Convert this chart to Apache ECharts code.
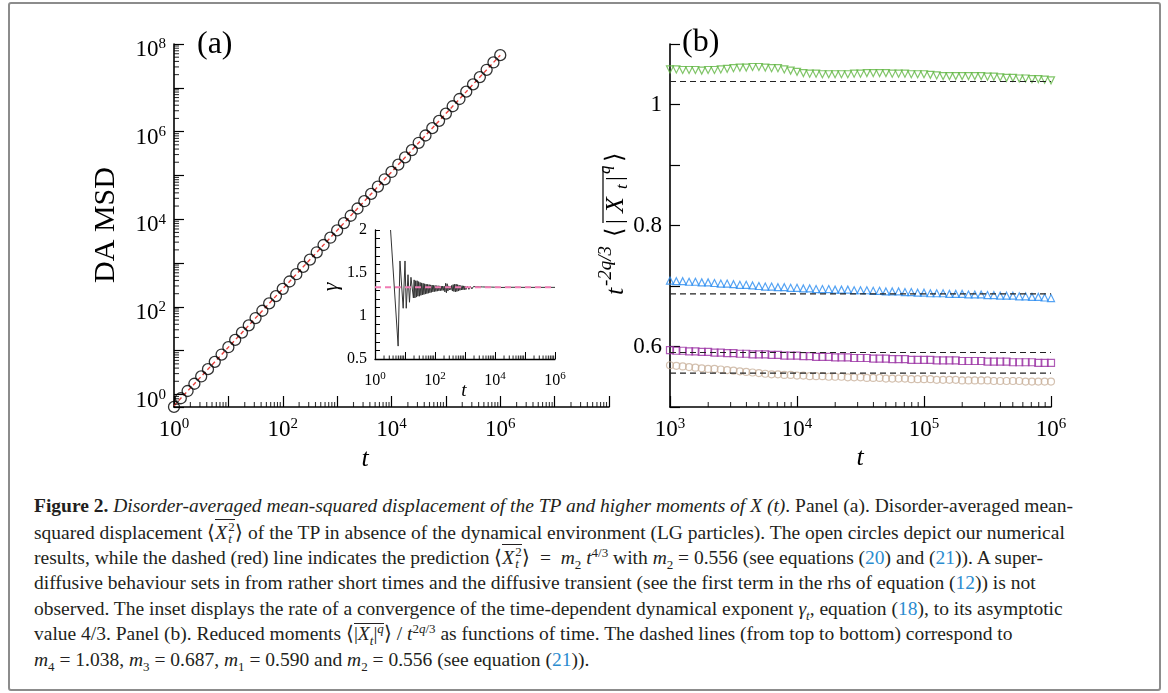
<!DOCTYPE html>
<html>
<head>
<meta charset="utf-8">
<script src="https://cdn.jsdelivr.net/npm/echarts@6.0.0/dist/echarts.min.js"></script>
<style>
  html, body { margin: 0; padding: 0; background: #fff; }
  #frame { position: absolute; left: 8px; top: 2px; width: 1153px; height: 689px; box-sizing: border-box; border: 2px solid #8c8c8c; border-radius: 3px; }
  #chart { position: absolute; left: 0; top: 0; width: 1168px; height: 480px; }
  #caption { position: absolute; left: 34px; top: 493px; font-family: 'Liberation Serif', serif; font-size: 19.5px; color: #231f20; white-space: nowrap; }
  #caption > div { height: 25.7px; line-height: 25.7px; }
  #caption sub, #caption sup { font-size: 13px; line-height: 0; }
  #caption a { color: #2b8ccf; text-decoration: none; }
  .ov { display: inline-block; border-top: 1px solid #231f20; line-height: 19px; }
  .ss { display: inline-block; position: relative; width: 8px; height: 19px; }
  .ss span { position: absolute; left: 1px; font-size: 13px; line-height: 13px; }
  .ss .u { top: 0px; }
  .ss .d { top: 12px; font-style: italic; }
</style>
</head>
<body>
<div id="frame"></div>
<div id="chart"></div>
<div id="caption">
  <div><b>Figure 2.</b> <i>Disorder-averaged mean-squared displacement of the TP and higher moments of X (t)</i>. Panel (a). Disorder-averaged mean-</div>
  <div>squared displacement &#10216;<span class="ov"><i>X</i><span class="ss"><span class="u">2</span><span class="d">t</span></span></span>&#10217; of the TP in absence of the dynamical environment (LG particles). The open circles depict our numerical</div>
  <div>results, while the dashed (red) line indicates the prediction &#10216;<span class="ov"><i>X</i><span class="ss"><span class="u">2</span><span class="d">t</span></span></span>&#10217; &nbsp;= &nbsp;<i>m</i><sub>2</sub> <i>t</i><sup>4/3</sup> with <i>m</i><sub>2</sub> = 0.556 (see equations (<a>20</a>) and (<a>21</a>)). A super-</div>
  <div>diffusive behaviour sets in from rather short times and the diffusive transient (see the first term in the rhs of equation (<a>12</a>)) is not</div>
  <div>observed. The inset displays the rate of a convergence of the time-dependent dynamical exponent <i>&gamma;<sub>t</sub></i>, equation (<a>18</a>), to its asymptotic</div>
  <div>value 4/3. Panel (b). Reduced moments &#10216;<span class="ov">|<i>X<sub>t</sub></i>|<sup><i>q</i></sup></span>&#10217; / <i>t</i><sup>2<i>q</i>/3</sup> as functions of time. The dashed lines (from top to bottom) correspond to</div>
  <div><i>m</i><sub>4</sub> = 1.038, <i>m</i><sub>3</sub> = 0.687, <i>m</i><sub>1</sub> = 0.590 and <i>m</i><sub>2</sub> = 0.556 (see equation (<a>21</a>)).</div>
</div>
<script>
// panel (a): disorder-averaged MSD
const tA = [1, 1.334, 1.778, 2.371, 3.162, 4.217, 5.623, 7.499,
  10, 13.34, 17.78, 23.71, 31.62, 42.17, 56.23, 74.99,
  100, 133.4, 177.8, 237.1, 316.2, 421.7, 562.3, 749.9,
  1000, 1334, 1778, 2371, 3162, 4217, 5623, 7499,
  1e4, 13340, 17780, 23710, 31620, 42170, 56230, 74990,
  1e5, 133400, 177800, 237100, 316200, 421700, 562300, 749900,
  1e6]
const msdA = [0.52, 0.82, 1.2, 1.76, 2.58, 3.79, 5.56, 8.16,
  12.0, 17.6, 25.8, 37.9, 55.6, 81.6, 120, 176,
  258, 379, 556, 816, 1200, 1760, 2580, 3790,
  5560, 8160, 1.2e4, 1.76e4, 2.58e4, 3.79e4, 5.56e4, 8.16e4,
  1.2e5, 1.76e5, 2.58e5, 3.79e5, 5.56e5, 8.16e5, 1.2e6, 1.76e6,
  2.58e6, 3.79e6, 5.56e6, 8.16e6, 1.2e7, 1.76e7, 2.58e7, 3.79e7,
  5.56e7]
const fitT = [1, 1e6]
const fitMsd = [0.556, 5.56e7]

// inset: gamma_t
const insetT = [3.3, 5.9, 6.8, 8.7, 10, 11, 12.6, 14.1, 15.8,
  19.05, 20.18, 21.38, 22.65, 23.99, 25.41, 26.92, 28.51, 30.20, 31.99,
  33.88, 35.89, 38.02, 40.27, 42.66, 45.19, 47.86, 50.70, 53.70, 56.89,
  60.26, 63.83, 67.61, 71.61, 75.86, 80.35, 85.11, 90.16, 95.50, 101.2,
  107.2, 113.5, 120.2, 127.4, 134.9, 142.9, 151.4, 160.3, 169.8, 179.9,
  190.5, 201.8, 213.8, 226.5, 239.9, 254.1, 269.2, 285.1, 302.0, 319.9,
  338.8, 358.9, 380.2, 402.7, 426.6, 451.9, 478.6, 507.0, 537.0, 568.9,
  602.6, 638.3, 676.1, 716.1, 758.6, 803.5, 851.1, 901.6, 955.0, 1012,
  1072, 1202, 1349, 1514, 1698, 1905, 2138, 2399, 2692, 3020,
  3388, 3802, 4266, 4786, 5370, 6026, 6761, 7586, 8511, 9550,
  15849, 39811, 1e5, 316228, 1e6]
const insetGamma = [2.0, 0.65, 1.64, 1.09, 1.64, 1.09, 1.48, 1.16, 1.45,
  1.21, 1.42, 1.21, 1.41, 1.22, 1.41, 1.23, 1.40, 1.23, 1.39,
  1.24, 1.385, 1.245, 1.38, 1.25, 1.375, 1.255, 1.37, 1.26, 1.368,
  1.265, 1.365, 1.27, 1.362, 1.275, 1.36, 1.28, 1.357, 1.283, 1.355,
  1.286, 1.353, 1.289, 1.352, 1.292, 1.35, 1.294, 1.349, 1.296, 1.348,
  1.298, 1.347, 1.28, 1.38, 1.27, 1.375, 1.29, 1.35, 1.303, 1.345,
  1.305, 1.355, 1.29, 1.365, 1.285, 1.37, 1.28, 1.37, 1.285, 1.365,
  1.29, 1.358, 1.298, 1.354, 1.302, 1.352, 1.304, 1.35, 1.306, 1.349,
  1.307, 1.348, 1.31, 1.345, 1.315, 1.342, 1.32, 1.34, 1.322, 1.34,
  1.325, 1.338, 1.327, 1.337, 1.328, 1.336, 1.33, 1.336, 1.33, 1.335,
  1.332, 1.334, 1.333, 1.333, 1.333]
const gammaLimit = 1.3333

// panel (b): reduced moments
const tB = [1000, 1122, 1259, 1413, 1585, 1778, 1995, 2239, 2512, 2818,
  3162, 3548, 3981, 4467, 5012, 5623, 6310, 7079, 7943, 8913,
  10000, 11220, 12590, 14130, 15850, 17780, 19950, 22390, 25120, 28180,
  31620, 35480, 39810, 44670, 50120, 56230, 63100, 70790, 79430, 89130,
  100000, 112200, 125900, 141300, 158500, 177800, 199500, 223900, 251200, 281800,
  316200, 354800, 398100, 446700, 501200, 562300, 631000, 707900, 794300, 891300,
  1000000]
const q4 = [1.058, 1.058, 1.057, 1.057, 1.057, 1.056, 1.057, 1.057, 1.058, 1.059,
  1.060, 1.061, 1.061, 1.062, 1.062, 1.061, 1.060, 1.060, 1.058, 1.056,
  1.054, 1.052, 1.051, 1.051, 1.050, 1.050, 1.050, 1.050, 1.050, 1.051,
  1.051, 1.052, 1.052, 1.052, 1.052, 1.051, 1.051, 1.051, 1.050, 1.050,
  1.050, 1.049, 1.048, 1.047, 1.047, 1.047, 1.047, 1.047, 1.047, 1.047,
  1.046, 1.046, 1.045, 1.044, 1.044, 1.043, 1.043, 1.042, 1.042, 1.041,
  1.040]
const q3 = [0.709, 0.708, 0.708, 0.707, 0.707, 0.706, 0.706, 0.705, 0.704, 0.704,
  0.703, 0.702, 0.702, 0.701, 0.700, 0.699, 0.699, 0.698, 0.698, 0.697,
  0.697, 0.696, 0.696, 0.695, 0.695, 0.695, 0.694, 0.694, 0.694, 0.693,
  0.693, 0.693, 0.692, 0.692, 0.691, 0.691, 0.691, 0.690, 0.690, 0.689,
  0.689, 0.688, 0.688, 0.688, 0.687, 0.687, 0.687, 0.686, 0.686, 0.686,
  0.685, 0.685, 0.684, 0.684, 0.684, 0.683, 0.683, 0.682, 0.682, 0.681,
  0.680]
const q1 = [0.594, 0.593, 0.593, 0.592, 0.592, 0.591, 0.591, 0.590, 0.590, 0.589,
  0.589, 0.588, 0.588, 0.587, 0.587, 0.587, 0.586, 0.586, 0.585, 0.585,
  0.585, 0.584, 0.584, 0.583, 0.583, 0.583, 0.582, 0.582, 0.582, 0.581,
  0.581, 0.581, 0.580, 0.580, 0.580, 0.579, 0.579, 0.579, 0.578, 0.578,
  0.578, 0.578, 0.577, 0.577, 0.577, 0.577, 0.576, 0.576, 0.576, 0.576,
  0.575, 0.575, 0.575, 0.575, 0.574, 0.574, 0.574, 0.574, 0.573, 0.573,
  0.573]
const q2 = [0.569, 0.568, 0.567, 0.566, 0.565, 0.564, 0.563, 0.563, 0.562, 0.561,
  0.560, 0.559, 0.558, 0.557, 0.556, 0.555, 0.554, 0.554, 0.553, 0.553,
  0.552, 0.552, 0.551, 0.551, 0.551, 0.550, 0.550, 0.550, 0.549, 0.549,
  0.549, 0.548, 0.548, 0.548, 0.547, 0.547, 0.547, 0.547, 0.546, 0.546,
  0.546, 0.546, 0.545, 0.545, 0.545, 0.545, 0.544, 0.544, 0.544, 0.544,
  0.544, 0.543, 0.543, 0.543, 0.543, 0.543, 0.542, 0.542, 0.542, 0.542,
  0.542]
const mRef = [1.038, 0.687, 0.590, 0.556]   // m4, m3, m1, m2
const refT = [1e3, 1e6]

const SERIF = "'Liberation Serif', 'DejaVu Serif', serif"
const yMinA = 0.518

function zip(xs, ys) {
  return xs.map((x, i) => [x, ys[i]])
}

// log-axis minor tick positions (2..9 per decade)
function logMinor(e0, e1, lo, hi) {
  const out = []
  for (let e = e0; e < e1; e++) {
    for (let m = 2; m <= 9; m++) {
      const v = m * Math.pow(10, e)
      if (v > lo && v < hi) out.push(v)
    }
  }
  return out
}

function powLabel(skipOdd, maxExp) {
  return function (v) {
    const e = Math.log10(v)
    const r = Math.round(e)
    if (Math.abs(e - r) > 1e-6) return ''
    if (skipOdd && r % 2 !== 0) return ''
    if (maxExp !== undefined && r > maxExp) return ''
    return '{b|10}{s|' + r + '}'
  }
}

function richPow(big, small) {
  return {
    b: { fontSize: big, fontFamily: SERIF, color: '#000', lineHeight: big + 3 },
    s: { fontSize: small, fontFamily: SERIF, color: '#000', lineHeight: small, verticalAlign: 'top' }
  }
}

const axisLine = { show: true, lineStyle: { color: '#000', width: 1.6 } }

function minorX(xi, yi, vals, yEdge, len) {
  return {
    type: 'scatter', xAxisIndex: xi, yAxisIndex: yi, silent: true, clip: false, z: 3,
    symbol: 'rect', symbolSize: [1.1, len], symbolOffset: [0, -len / 2],
    itemStyle: { color: '#000' },
    data: vals.map(v => [v, yEdge])
  }
}
function minorY(xi, yi, vals, xEdge, len) {
  return {
    type: 'scatter', xAxisIndex: xi, yAxisIndex: yi, silent: true, clip: false, z: 3,
    symbol: 'rect', symbolSize: [len, 1.1], symbolOffset: [len / 2, 0],
    itemStyle: { color: '#000' },
    data: vals.map(v => [xEdge, v])
  }
}

function openMarker(symbol, color, data, rotate) {
  return {
    type: 'scatter', xAxisIndex: 2, yAxisIndex: 2, symbol: symbol, symbolSize: 7,
    symbolRotate: rotate || 0,
    itemStyle: { color: 'rgba(0,0,0,0)', borderColor: color, borderWidth: 1.2 },
    data: data
  }
}

function refLine(v) {
  return {
    type: 'line', xAxisIndex: 2, yAxisIndex: 2, symbol: 'none', z: 4,
    lineStyle: { color: '#222', width: 1.1, type: [6, 4] },
    data: zip(refT, [v, v])
  }
}

const chart = echarts.init(document.getElementById('chart'))

const txt = (x, y, text, size, extra) => Object.assign({
  type: 'text', x: x, y: y,
  style: {
    text: text, fontSize: size, fontFamily: SERIF, fill: '#000',
    align: 'left', verticalAlign: 'middle', textAlign: 'left', textVerticalAlign: 'middle'
  }
}, extra || {})

const centered = (x, y, text, size, italic, rot) => ({
  type: 'text', x: x, y: y, rotation: rot || 0,
  style: {
    text: text, fontSize: size, fontFamily: SERIF, fontStyle: italic ? 'italic' : 'normal', fill: '#000',
    align: 'center', verticalAlign: 'middle', textAlign: 'center', textVerticalAlign: 'middle'
  }
})

function it(x, y, text, size) {
  const e = txt(x, y, text, size)
  e.style.fontStyle = 'italic'
  return e
}

chart.setOption({
  animation: false,
  backgroundColor: 'transparent',
  grid: [
    { left: 174, top: 44, width: 435, height: 363 },
    { left: 375, top: 230, width: 180, height: 129 },
    { left: 670, top: 44, width: 381, height: 363 }
  ],
  xAxis: [
    {
      gridIndex: 0, type: 'log', logBase: 10, min: 1, max: 1e8,
      axisLine: axisLine,
      axisTick: { inside: true, length: 11, lineStyle: { color: '#000', width: 1.2 } },
      axisLabel: { formatter: powLabel(true, 6), rich: richPow(23, 15), margin: 10, hideOverlap: false, showMinLabel: true },
      splitLine: { show: false }
    },
    {
      gridIndex: 1, type: 'log', logBase: 10, min: 1, max: 1e6,
      axisLine: { show: true, lineStyle: { color: '#000', width: 1.3 } },
      axisTick: { inside: true, length: 7, lineStyle: { color: '#000', width: 1 } },
      axisLabel: { formatter: powLabel(true), rich: richPow(16, 11), margin: 12, hideOverlap: false, showMinLabel: true, showMaxLabel: true },
      splitLine: { show: false }
    },
    {
      gridIndex: 2, type: 'log', logBase: 10, min: 1e3, max: 1e6,
      axisLine: axisLine,
      axisTick: { inside: true, length: 11, lineStyle: { color: '#000', width: 1.2 } },
      axisLabel: { formatter: powLabel(false), rich: richPow(23, 15), margin: 10, hideOverlap: false, showMinLabel: true, showMaxLabel: true },
      splitLine: { show: false }
    }
  ],
  yAxis: [
    {
      gridIndex: 0, type: 'log', logBase: 10, min: yMinA, max: 1e8,
      axisLine: axisLine,
      axisTick: { inside: true, length: 10, lineStyle: { color: '#000', width: 1.2 } },
      axisLabel: { formatter: powLabel(true), rich: richPow(23, 15), margin: 8, padding: [12, 0, 0, 0], hideOverlap: false, showMaxLabel: true },
      splitLine: { show: false }
    },
    {
      gridIndex: 1, type: 'value', min: 0.5, max: 2, interval: 0.1,
      axisLine: { show: true, lineStyle: { color: '#000', width: 1.3 } },
      axisTick: { inside: true, length: 5, lineStyle: { color: '#000', width: 1 } },
      axisLabel: {
        fontFamily: SERIF, fontSize: 16, color: '#000', margin: 8, hideOverlap: false,
        formatter: v => (Math.round(v * 10) % 5 === 0 ? String(+v.toFixed(1)) : '')
      },
      splitLine: { show: false }
    },
    {
      gridIndex: 2, type: 'value', min: 0.5, max: 1.1, interval: 0.1,
      axisLine: axisLine,
      axisTick: { inside: true, length: 10, lineStyle: { color: '#000', width: 1.2 } },
      axisLabel: {
        fontFamily: SERIF, fontSize: 23, color: '#000', margin: 8, hideOverlap: false,
        formatter: v => {
          const k = Math.round(v * 10)
          return (k % 2 === 0 && k >= 6 && k <= 10) ? String(+v.toFixed(1)) : ''
        }
      },
      splitLine: { show: false }
    }
  ],
  graphic: { elements: [
    txt(197, 45, '(a)', 32),
    txt(682, 43, '(b)', 32),
    centered(106, 225, 'DA MSD', 30, false, Math.PI / 2),
    centered(365, 459, 't', 26, true),
    centered(860, 458, 't', 26, true),
    centered(464, 391, 't', 19, true),
    centered(331, 287, '\u03b3', 22, true, Math.PI / 2),
    {
      type: 'group', x: 616, y: 222, rotation: Math.PI / 2,
      children: [
        it(-73, 0, 't', 26),
        it(-64, -10, '-2q/3', 19),
        txt(-15, 0, '\u27e8', 24),
        txt(-2, 0, '|', 24),
        it(9, 0, 'X', 26),
        it(33, 7, 't', 17),
        txt(41, 0, '|', 24),
        it(48, -10, 'q', 17),
        txt(60, 0, '\u27e9', 24),
        { type: 'line', shape: { x1: -1, y1: -13, x2: 55, y2: -13 }, style: { stroke: '#000', lineWidth: 1.2 } }
      ]
    }
  ] },
  series: [
    // panel (a)
    {
      type: 'line', xAxisIndex: 0, yAxisIndex: 0, symbol: 'none', z: 2,
      lineStyle: { color: '#e8413c', width: 1.4, type: [4, 3] },
      data: zip(fitT, fitMsd)
    },
    {
      type: 'scatter', xAxisIndex: 0, yAxisIndex: 0, symbol: 'circle', symbolSize: 11, clip: false, z: 3,
      itemStyle: { color: 'rgba(0,0,0,0)', borderColor: '#000', borderWidth: 1.3 },
      data: zip(tA, msdA)
    },
    minorX(0, 0, logMinor(0, 8, 1, 1e8), yMinA, 5),
    minorY(0, 0, logMinor(-1, 8, yMinA, 1e8), 1, 5),
    // inset
    {
      type: 'line', xAxisIndex: 1, yAxisIndex: 1, symbol: 'none', z: 2,
      lineStyle: { color: '#333', width: 1 },
      data: zip(insetT, insetGamma)
    },
    {
      type: 'line', xAxisIndex: 1, yAxisIndex: 1, symbol: 'none', z: 3,
      lineStyle: { color: '#f07cb4', width: 2, type: [6, 4] },
      data: zip([1, 1e6], [gammaLimit, gammaLimit])
    },
    minorX(1, 1, logMinor(0, 6, 1, 1e6), 0.5, 3.5),
    // panel (b)
    openMarker('triangle', '#62b744', zip(tB, q4), 180),
    openMarker('triangle', '#2a8cf0', zip(tB, q3)),
    openMarker('rect', '#9b32a4', zip(tB, q1)),
    openMarker('circle', '#c9b29c', zip(tB, q2)),
    refLine(mRef[0]),
    refLine(mRef[1]),
    refLine(mRef[2]),
    refLine(mRef[3]),
    minorX(2, 2, logMinor(3, 6, 1e3, 1e6), 0.5, 5)
  ]
})
</script>
</body>
</html>
